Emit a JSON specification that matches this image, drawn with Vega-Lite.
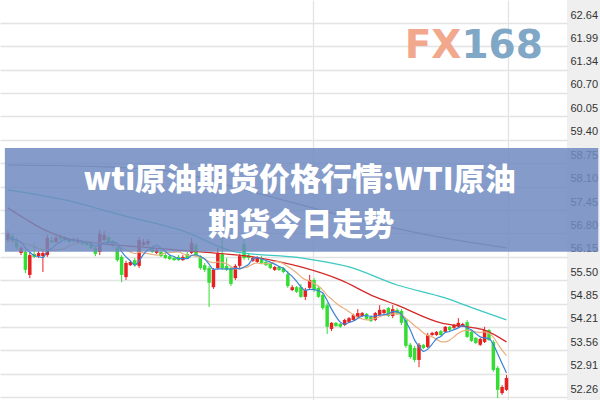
{
"$schema": "https://vega.github.io/schema/vega-lite/v6.json",
"width": 567, "height": 400,
"autosize": {"type": "none"},
"padding": {"left": 0, "top": 0, "right": 33, "bottom": 0},
"background": "#efefef",
"config": {"view": {"stroke": null, "fill": "#ffffff"}, "axis": {"gridColor": "#e3e3e3", "gridWidth": 1.3}},
"datasets": {
"candles": [
{"i":0,"o":56.62,"c":56.79,"h":56.87,"l":56.56,"m5":56.68,"m10":56.62},
{"i":1,"o":56.73,"c":56.59,"h":56.79,"l":56.54,"m5":56.65,"m10":56.59},
{"i":2,"o":56.62,"c":56.42,"h":56.68,"l":56.34,"m5":56.62,"m10":56.56},
{"i":3,"o":56.26,"c":56.40,"h":56.45,"l":56.20,"m5":56.56,"m10":56.54},
{"i":4,"o":56.29,"c":55.79,"h":56.34,"l":55.70,"m5":56.40,"m10":56.51},
{"i":5,"o":55.65,"c":56.20,"h":56.29,"l":55.56,"m5":56.28,"m10":56.48},
{"i":6,"o":56.23,"c":56.15,"h":56.54,"l":56.12,"m5":56.19,"m10":56.42},
{"i":7,"o":56.17,"c":56.26,"h":56.31,"l":56.12,"m5":56.16,"m10":56.39},
{"i":8,"o":56.17,"c":56.26,"h":56.34,"l":55.73,"m5":56.13,"m10":56.35},
{"i":9,"o":56.20,"c":56.68,"h":56.76,"l":56.15,"m5":56.31,"m10":56.35},
{"i":10,"o":56.62,"c":56.56,"h":56.70,"l":56.51,"m5":56.38,"m10":56.33},
{"i":11,"o":56.56,"c":56.68,"h":56.73,"l":56.54,"m5":56.49,"m10":56.34},
{"i":12,"o":56.70,"c":56.65,"h":56.76,"l":56.59,"m5":56.56,"m10":56.36},
{"i":13,"o":56.68,"c":56.62,"h":56.73,"l":56.56,"m5":56.64,"m10":56.38},
{"i":14,"o":56.62,"c":56.56,"h":56.68,"l":56.54,"m5":56.61,"m10":56.46},
{"i":15,"o":56.65,"c":56.59,"h":56.70,"l":56.54,"m5":56.62,"m10":56.50},
{"i":16,"o":56.54,"c":56.62,"h":56.68,"l":56.51,"m5":56.61,"m10":56.55},
{"i":17,"o":56.56,"c":56.51,"h":56.62,"l":56.48,"m5":56.58,"m10":56.57},
{"i":18,"o":56.54,"c":56.48,"h":56.59,"l":56.45,"m5":56.55,"m10":56.59},
{"i":19,"o":56.51,"c":56.40,"h":56.56,"l":56.37,"m5":56.52,"m10":56.57},
{"i":20,"o":56.40,"c":56.23,"h":56.42,"l":56.17,"m5":56.45,"m10":56.53},
{"i":21,"o":56.29,"c":56.79,"h":56.90,"l":56.20,"m5":56.48,"m10":56.54},
{"i":22,"o":56.62,"c":56.76,"h":56.87,"l":56.59,"m5":56.53,"m10":56.55},
{"i":23,"o":56.70,"c":56.56,"h":56.73,"l":56.54,"m5":56.55,"m10":56.55},
{"i":24,"o":56.59,"c":56.48,"h":56.62,"l":56.42,"m5":56.56,"m10":56.54},
{"i":25,"o":56.42,"c":56.06,"h":56.45,"l":56.01,"m5":56.53,"m10":56.49},
{"i":26,"o":56.15,"c":55.65,"h":56.20,"l":55.45,"m5":56.30,"m10":56.39},
{"i":27,"o":55.59,"c":55.98,"h":56.04,"l":55.51,"m5":56.15,"m10":56.34},
{"i":28,"o":55.92,"c":56.01,"h":56.06,"l":55.90,"m5":56.04,"m10":56.29},
{"i":29,"o":56.06,"c":55.92,"h":56.12,"l":55.87,"m5":55.92,"m10":56.24},
{"i":30,"o":55.90,"c":56.62,"h":56.70,"l":55.84,"m5":56.04,"m10":56.28},
{"i":31,"o":56.48,"c":56.56,"h":56.65,"l":56.45,"m5":56.22,"m10":56.26},
{"i":32,"o":56.51,"c":56.59,"h":56.65,"l":56.45,"m5":56.34,"m10":56.24},
{"i":33,"o":56.42,"c":56.29,"h":56.48,"l":56.26,"m5":56.40,"m10":56.22},
{"i":34,"o":56.26,"c":56.34,"h":56.40,"l":56.23,"m5":56.48,"m10":56.20},
{"i":35,"o":56.29,"c":56.17,"h":56.34,"l":56.15,"m5":56.39,"m10":56.21},
{"i":36,"o":56.20,"c":56.12,"h":56.26,"l":56.09,"m5":56.30,"m10":56.26},
{"i":37,"o":56.17,"c":56.09,"h":56.20,"l":56.06,"m5":56.20,"m10":56.27},
{"i":38,"o":56.12,"c":56.06,"h":56.17,"l":56.04,"m5":56.16,"m10":56.28},
{"i":39,"o":56.15,"c":56.06,"h":56.20,"l":56.04,"m5":56.10,"m10":56.29},
{"i":40,"o":56.06,"c":56.15,"h":56.20,"l":56.04,"m5":56.10,"m10":56.24},
{"i":41,"o":56.23,"c":56.12,"h":56.29,"l":56.09,"m5":56.10,"m10":56.20},
{"i":42,"o":56.26,"c":56.54,"h":56.68,"l":56.23,"m5":56.19,"m10":56.19},
{"i":43,"o":56.48,"c":56.17,"h":56.54,"l":56.15,"m5":56.21,"m10":56.18},
{"i":44,"o":56.17,"c":55.84,"h":56.20,"l":55.79,"m5":56.16,"m10":56.13},
{"i":45,"o":55.92,"c":55.79,"h":55.98,"l":55.73,"m5":56.09,"m10":56.09},
{"i":46,"o":55.84,"c":55.43,"h":55.90,"l":54.76,"m5":55.95,"m10":56.02},
{"i":47,"o":55.31,"c":55.79,"h":55.84,"l":55.26,"m5":55.80,"m10":55.99},
{"i":48,"o":55.84,"c":56.26,"h":56.40,"l":55.79,"m5":55.82,"m10":56.01},
{"i":49,"o":56.23,"c":55.84,"h":56.70,"l":55.79,"m5":55.82,"m10":55.99},
{"i":50,"o":55.90,"c":55.79,"h":56.12,"l":55.76,"m5":55.82,"m10":55.96},
{"i":51,"o":55.84,"c":55.40,"h":55.90,"l":55.34,"m5":55.81,"m10":55.88},
{"i":52,"o":55.56,"c":55.90,"h":55.95,"l":55.51,"m5":55.84,"m10":55.82},
{"i":53,"o":55.90,"c":56.17,"h":56.23,"l":55.84,"m5":55.82,"m10":55.82},
{"i":54,"o":56.51,"c":56.12,"h":56.68,"l":56.06,"m5":55.87,"m10":55.85},
{"i":55,"o":56.20,"c":56.12,"h":56.26,"l":56.06,"m5":55.94,"m10":55.88},
{"i":56,"o":56.04,"c":56.12,"h":56.17,"l":56.01,"m5":56.09,"m10":55.95},
{"i":57,"o":56.01,"c":56.12,"h":56.17,"l":55.98,"m5":56.13,"m10":55.98},
{"i":58,"o":56.12,"c":55.98,"h":56.17,"l":55.95,"m5":56.09,"m10":55.96},
{"i":59,"o":56.01,"c":55.92,"h":56.06,"l":55.90,"m5":56.05,"m10":55.96},
{"i":60,"o":55.98,"c":55.84,"h":56.01,"l":55.81,"m5":56.00,"m10":55.97},
{"i":61,"o":55.79,"c":55.87,"h":55.90,"l":55.76,"m5":55.95,"m10":56.02},
{"i":62,"o":55.87,"c":55.79,"h":55.90,"l":55.76,"m5":55.88,"m10":56.01},
{"i":63,"o":55.84,"c":55.73,"h":55.87,"l":55.70,"m5":55.83,"m10":55.96},
{"i":64,"o":55.67,"c":55.34,"h":55.76,"l":55.29,"m5":55.71,"m10":55.88},
{"i":65,"o":55.23,"c":55.31,"h":55.37,"l":55.20,"m5":55.61,"m10":55.80},
{"i":66,"o":55.31,"c":55.18,"h":55.34,"l":55.15,"m5":55.47,"m10":55.71},
{"i":67,"o":55.31,"c":55.04,"h":55.40,"l":55.01,"m5":55.32,"m10":55.60},
{"i":68,"o":55.04,"c":55.23,"h":55.29,"l":54.95,"m5":55.22,"m10":55.52},
{"i":69,"o":55.29,"c":55.51,"h":55.65,"l":55.26,"m5":55.25,"m10":55.48},
{"i":70,"o":55.51,"c":55.23,"h":55.56,"l":55.18,"m5":55.24,"m10":55.42},
{"i":71,"o":55.29,"c":55.04,"h":55.34,"l":55.01,"m5":55.21,"m10":55.34},
{"i":72,"o":55.09,"c":54.73,"h":55.15,"l":54.68,"m5":55.15,"m10":55.23},
{"i":73,"o":54.81,"c":54.21,"h":54.87,"l":54.01,"m5":54.94,"m10":55.08},
{"i":74,"o":54.15,"c":54.32,"h":54.34,"l":54.09,"m5":54.70,"m10":54.98},
{"i":75,"o":54.32,"c":54.23,"h":54.34,"l":54.21,"m5":54.50,"m10":54.87},
{"i":76,"o":54.29,"c":54.21,"h":54.32,"l":54.18,"m5":54.34,"m10":54.78},
{"i":77,"o":54.26,"c":54.40,"h":54.43,"l":54.23,"m5":54.28,"m10":54.71},
{"i":78,"o":54.34,"c":54.45,"h":54.48,"l":54.32,"m5":54.33,"m10":54.63},
{"i":79,"o":54.40,"c":54.54,"h":54.57,"l":54.37,"m5":54.37,"m10":54.54},
{"i":80,"o":54.48,"c":54.59,"h":54.70,"l":54.45,"m5":54.44,"m10":54.47},
{"i":81,"o":54.51,"c":54.59,"h":54.62,"l":54.48,"m5":54.51,"m10":54.43},
{"i":82,"o":54.57,"c":54.43,"h":54.59,"l":54.40,"m5":54.52,"m10":54.40},
{"i":83,"o":54.48,"c":54.37,"h":54.51,"l":54.34,"m5":54.50,"m10":54.41},
{"i":84,"o":54.40,"c":54.59,"h":54.62,"l":54.37,"m5":54.51,"m10":54.44},
{"i":85,"o":54.54,"c":54.68,"h":54.81,"l":54.51,"m5":54.53,"m10":54.49},
{"i":86,"o":54.59,"c":54.68,"h":54.70,"l":54.57,"m5":54.55,"m10":54.53},
{"i":87,"o":54.73,"c":54.51,"h":54.76,"l":54.48,"m5":54.57,"m10":54.54},
{"i":88,"o":54.51,"c":54.70,"h":54.81,"l":54.45,"m5":54.63,"m10":54.57},
{"i":89,"o":54.68,"c":54.57,"h":54.73,"l":54.54,"m5":54.63,"m10":54.57},
{"i":90,"o":54.65,"c":54.32,"h":54.70,"l":54.26,"m5":54.55,"m10":54.54},
{"i":91,"o":54.40,"c":53.68,"h":54.45,"l":53.62,"m5":54.35,"m10":54.45},
{"i":92,"o":53.71,"c":53.37,"h":53.76,"l":53.32,"m5":54.13,"m10":54.35},
{"i":93,"o":53.62,"c":53.29,"h":53.68,"l":53.23,"m5":53.84,"m10":54.24},
{"i":94,"o":53.29,"c":53.71,"h":53.76,"l":53.09,"m5":53.67,"m10":54.15},
{"i":95,"o":53.71,"c":53.62,"h":53.73,"l":53.59,"m5":53.53,"m10":54.04},
{"i":96,"o":53.65,"c":53.98,"h":54.04,"l":53.62,"m5":53.59,"m10":53.97},
{"i":97,"o":53.98,"c":54.04,"h":54.07,"l":53.96,"m5":53.73,"m10":53.93},
{"i":98,"o":53.98,"c":54.07,"h":54.09,"l":53.96,"m5":53.88,"m10":53.86},
{"i":99,"o":54.09,"c":53.98,"h":54.12,"l":53.96,"m5":53.94,"m10":53.80},
{"i":100,"o":54.07,"c":54.21,"h":54.23,"l":54.04,"m5":54.05,"m10":53.79},
{"i":101,"o":54.21,"c":54.12,"h":54.23,"l":54.09,"m5":54.08,"m10":53.84},
{"i":102,"o":54.18,"c":54.26,"h":54.29,"l":54.15,"m5":54.13,"m10":53.93},
{"i":103,"o":54.21,"c":54.32,"h":54.45,"l":54.18,"m5":54.18,"m10":54.03},
{"i":104,"o":54.23,"c":54.29,"h":54.32,"l":54.21,"m5":54.24,"m10":54.09},
{"i":105,"o":54.34,"c":53.93,"h":54.40,"l":53.90,"m5":54.18,"m10":54.12},
{"i":106,"o":54.07,"c":53.82,"h":54.12,"l":53.79,"m5":54.12,"m10":54.10},
{"i":107,"o":53.90,"c":53.76,"h":53.93,"l":53.73,"m5":54.02,"m10":54.07},
{"i":108,"o":53.71,"c":53.87,"h":53.90,"l":53.68,"m5":53.93,"m10":54.05},
{"i":109,"o":53.79,"c":54.12,"h":54.21,"l":53.76,"m5":53.90,"m10":54.07},
{"i":110,"o":54.12,"c":53.84,"h":54.15,"l":53.82,"m5":53.88,"m10":54.03},
{"i":111,"o":53.79,"c":53.01,"h":53.84,"l":52.96,"m5":53.72,"m10":53.92},
{"i":112,"o":53.07,"c":52.46,"h":53.12,"l":52.23,"m5":53.46,"m10":53.74},
{"i":113,"o":52.37,"c":52.54,"h":52.59,"l":52.32,"m5":53.19,"m10":53.56},
{"i":114,"o":52.46,"c":52.79,"h":52.87,"l":52.43,"m5":52.93,"m10":53.41}
],
"ma30": [{"i":0,"v":57.51},{"i":4,"v":57.20},{"i":8,"v":56.92},{"i":13,"v":56.68},{"i":22,"v":56.51},{"i":33,"v":56.40},{"i":44,"v":56.29},{"i":56,"v":56.15},{"i":67,"v":55.87},{"i":76,"v":55.51},{"i":84,"v":55.04},{"i":89,"v":54.81},{"i":99,"v":54.32},{"i":105,"v":54.21},{"i":109,"v":54.12},{"i":114,"v":53.79}],
"ma60": [{"i":0,"v":58.01},{"i":13,"v":57.73},{"i":26,"v":57.31},{"i":40,"v":56.87},{"i":52,"v":56.29},{"i":67,"v":56.12},{"i":78,"v":55.87},{"i":89,"v":55.37},{"i":100,"v":55.01},{"i":107,"v":54.70},{"i":114,"v":54.40}],
"ma120": [{"i":0,"v":58.70},{"i":22,"v":58.65},{"i":38,"v":58.51},{"i":56,"v":57.95},{"i":85,"v":57.04},{"i":100,"v":56.67},{"i":114,"v":56.40}]
},
"layer": [
{"data": {"name": "candles"}, "mark": {"type": "rule", "strokeWidth": 1},
 "encoding": {
  "x": {"field": "i", "type": "quantitative", "title": null, "scale": {"domain": [-0.67, 126.7], "nice": false, "zero": false}, "axis": {"values": [69.7, 114.4], "grid": true, "labels": false, "ticks": false, "domain": false, "title": null}},
  "y": {"field": "l", "type": "quantitative", "title": null, "scale": {"domain": [52.178, 63.28], "nice": false, "zero": false}, "axis": {"orient": "right", "values": [62.64, 61.99, 61.34, 60.70, 60.05, 59.40, 58.75, 58.10, 57.45, 56.80, 56.15, 55.50, 54.85, 54.21, 53.56, 52.91, 52.26], "format": ".2f", "grid": true, "ticks": false, "domain": false, "title": null, "labelFont": "Liberation Sans", "labelFontSize": 11, "labelColor": "#333333", "labelPadding": 3, "labelOffset": -8, "labelBaseline": "middle", "labelAlign": "left", "labelOverlap": false, "labelBound": false, "labelFlush": false}},
  "y2": {"field": "h"},
  "color": {"condition": {"test": "datum.c >= datum.o", "value": "#e82020"}, "value": "#33dd33"}
 }},
{"data": {"name": "candles"}, "mark": {"type": "bar", "size": 3.5},
 "encoding": {
  "x": {"field": "i", "type": "quantitative", "title": null, "scale": {"domain": [-0.67, 126.7], "nice": false, "zero": false}, "axis": {"values": [69.7, 114.4], "grid": true, "labels": false, "ticks": false, "domain": false, "title": null}},
  "y": {"field": "o", "type": "quantitative", "title": null, "scale": {"domain": [52.178, 63.28], "nice": false, "zero": false}, "axis": {"orient": "right", "values": [62.64, 61.99, 61.34, 60.70, 60.05, 59.40, 58.75, 58.10, 57.45, 56.80, 56.15, 55.50, 54.85, 54.21, 53.56, 52.91, 52.26], "format": ".2f", "grid": true, "ticks": false, "domain": false, "title": null, "labelFont": "Liberation Sans", "labelFontSize": 11, "labelColor": "#333333", "labelPadding": 3, "labelOffset": -8, "labelBaseline": "middle", "labelAlign": "left", "labelOverlap": false, "labelBound": false, "labelFlush": false}},
  "y2": {"field": "c"},
  "color": {"condition": {"test": "datum.c >= datum.o", "value": "#e82020"}, "value": "#33dd33"}
 }},
{"data": {"name": "ma120"}, "mark": {"type": "line", "color": "#8a98a8", "strokeWidth": 1.2, "interpolate": "monotone"},
 "encoding": {
  "x": {"field": "i", "type": "quantitative", "title": null, "scale": {"domain": [-0.67, 126.7], "nice": false, "zero": false}, "axis": {"values": [69.7, 114.4], "grid": true, "labels": false, "ticks": false, "domain": false, "title": null}},
  "y": {"field": "v", "type": "quantitative", "title": null, "scale": {"domain": [52.178, 63.28], "nice": false, "zero": false}, "axis": {"orient": "right", "values": [62.64, 61.99, 61.34, 60.70, 60.05, 59.40, 58.75, 58.10, 57.45, 56.80, 56.15, 55.50, 54.85, 54.21, 53.56, 52.91, 52.26], "format": ".2f", "grid": true, "ticks": false, "domain": false, "title": null, "labelFont": "Liberation Sans", "labelFontSize": 11, "labelColor": "#333333", "labelPadding": 3, "labelOffset": -8, "labelBaseline": "middle", "labelAlign": "left", "labelOverlap": false, "labelBound": false, "labelFlush": false}}
 }},
{"data": {"name": "ma60"}, "mark": {"type": "line", "color": "#3ec8c2", "strokeWidth": 1.3, "interpolate": "monotone"},
 "encoding": {
  "x": {"field": "i", "type": "quantitative", "title": null, "scale": {"domain": [-0.67, 126.7], "nice": false, "zero": false}, "axis": {"values": [69.7, 114.4], "grid": true, "labels": false, "ticks": false, "domain": false, "title": null}},
  "y": {"field": "v", "type": "quantitative", "title": null, "scale": {"domain": [52.178, 63.28], "nice": false, "zero": false}, "axis": {"orient": "right", "values": [62.64, 61.99, 61.34, 60.70, 60.05, 59.40, 58.75, 58.10, 57.45, 56.80, 56.15, 55.50, 54.85, 54.21, 53.56, 52.91, 52.26], "format": ".2f", "grid": true, "ticks": false, "domain": false, "title": null, "labelFont": "Liberation Sans", "labelFontSize": 11, "labelColor": "#333333", "labelPadding": 3, "labelOffset": -8, "labelBaseline": "middle", "labelAlign": "left", "labelOverlap": false, "labelBound": false, "labelFlush": false}}
 }},
{"data": {"name": "ma30"}, "mark": {"type": "line", "color": "#d42a2a", "strokeWidth": 1.3, "interpolate": "monotone"},
 "encoding": {
  "x": {"field": "i", "type": "quantitative", "title": null, "scale": {"domain": [-0.67, 126.7], "nice": false, "zero": false}, "axis": {"values": [69.7, 114.4], "grid": true, "labels": false, "ticks": false, "domain": false, "title": null}},
  "y": {"field": "v", "type": "quantitative", "title": null, "scale": {"domain": [52.178, 63.28], "nice": false, "zero": false}, "axis": {"orient": "right", "values": [62.64, 61.99, 61.34, 60.70, 60.05, 59.40, 58.75, 58.10, 57.45, 56.80, 56.15, 55.50, 54.85, 54.21, 53.56, 52.91, 52.26], "format": ".2f", "grid": true, "ticks": false, "domain": false, "title": null, "labelFont": "Liberation Sans", "labelFontSize": 11, "labelColor": "#333333", "labelPadding": 3, "labelOffset": -8, "labelBaseline": "middle", "labelAlign": "left", "labelOverlap": false, "labelBound": false, "labelFlush": false}}
 }},
{"data": {"name": "candles"}, "mark": {"type": "line", "color": "#e8b080", "strokeWidth": 1.2, "interpolate": "monotone"},
 "encoding": {
  "x": {"field": "i", "type": "quantitative", "title": null, "scale": {"domain": [-0.67, 126.7], "nice": false, "zero": false}, "axis": {"values": [69.7, 114.4], "grid": true, "labels": false, "ticks": false, "domain": false, "title": null}},
  "y": {"field": "m10", "type": "quantitative", "title": null, "scale": {"domain": [52.178, 63.28], "nice": false, "zero": false}, "axis": {"orient": "right", "values": [62.64, 61.99, 61.34, 60.70, 60.05, 59.40, 58.75, 58.10, 57.45, 56.80, 56.15, 55.50, 54.85, 54.21, 53.56, 52.91, 52.26], "format": ".2f", "grid": true, "ticks": false, "domain": false, "title": null, "labelFont": "Liberation Sans", "labelFontSize": 11, "labelColor": "#333333", "labelPadding": 3, "labelOffset": -8, "labelBaseline": "middle", "labelAlign": "left", "labelOverlap": false, "labelBound": false, "labelFlush": false}}
 }},
{"data": {"name": "candles"}, "mark": {"type": "line", "color": "#3b82dc", "strokeWidth": 1.2, "interpolate": "monotone"},
 "encoding": {
  "x": {"field": "i", "type": "quantitative", "title": null, "scale": {"domain": [-0.67, 126.7], "nice": false, "zero": false}, "axis": {"values": [69.7, 114.4], "grid": true, "labels": false, "ticks": false, "domain": false, "title": null}},
  "y": {"field": "m5", "type": "quantitative", "title": null, "scale": {"domain": [52.178, 63.28], "nice": false, "zero": false}, "axis": {"orient": "right", "values": [62.64, 61.99, 61.34, 60.70, 60.05, 59.40, 58.75, 58.10, 57.45, 56.80, 56.15, 55.50, 54.85, 54.21, 53.56, 52.91, 52.26], "format": ".2f", "grid": true, "ticks": false, "domain": false, "title": null, "labelFont": "Liberation Sans", "labelFontSize": 11, "labelColor": "#333333", "labelPadding": 3, "labelOffset": -8, "labelBaseline": "middle", "labelAlign": "left", "labelOverlap": false, "labelBound": false, "labelFlush": false}}
 }},
{"data": {"values": [{"x1": -0.7, "x2": 135, "p1": 59.17, "p2": 56.29}]}, "mark": {"type": "rect", "fill": "#7089c0", "opacity": 0.85},
 "encoding": {
  "x": {"field": "x1", "type": "quantitative", "title": null, "scale": {"domain": [-0.67, 126.7], "nice": false, "zero": false}, "axis": {"values": [69.7, 114.4], "grid": true, "labels": false, "ticks": false, "domain": false, "title": null}},
  "x2": {"field": "x2"},
  "y": {"field": "p1", "type": "quantitative", "title": null, "scale": {"domain": [52.178, 63.28], "nice": false, "zero": false}, "axis": {"orient": "right", "values": [62.64, 61.99, 61.34, 60.70, 60.05, 59.40, 58.75, 58.10, 57.45, 56.80, 56.15, 55.50, 54.85, 54.21, 53.56, 52.91, 52.26], "format": ".2f", "grid": true, "ticks": false, "domain": false, "title": null, "labelFont": "Liberation Sans", "labelFontSize": 11, "labelColor": "#333333", "labelPadding": 3, "labelOffset": -8, "labelBaseline": "middle", "labelAlign": "left", "labelOverlap": false, "labelBound": false, "labelFlush": false}},
  "y2": {"field": "p2"}
 }},
{"data": {"values": [{"t": "wti原油期货价格行情:WTI原油", "i": 66.7, "p": 58.26}, {"t": "期货今日走势", "i": 67.1, "p": 57.01}]},
 "mark": {"type": "text", "font": "Noto Sans CJK SC", "fontSize": 31, "fontWeight": 900, "color": "#ffffff", "align": "center", "baseline": "middle"},
 "encoding": {
  "x": {"field": "i", "type": "quantitative", "title": null, "scale": {"domain": [-0.67, 126.7], "nice": false, "zero": false}, "axis": {"values": [69.7, 114.4], "grid": true, "labels": false, "ticks": false, "domain": false, "title": null}},
  "y": {"field": "p", "type": "quantitative", "title": null, "scale": {"domain": [52.178, 63.28], "nice": false, "zero": false}, "axis": {"orient": "right", "values": [62.64, 61.99, 61.34, 60.70, 60.05, 59.40, 58.75, 58.10, 57.45, 56.80, 56.15, 55.50, 54.85, 54.21, 53.56, 52.91, 52.26], "format": ".2f", "grid": true, "ticks": false, "domain": false, "title": null, "labelFont": "Liberation Sans", "labelFontSize": 11, "labelColor": "#333333", "labelPadding": 3, "labelOffset": -8, "labelBaseline": "middle", "labelAlign": "left", "labelOverlap": false, "labelBound": false, "labelFlush": false}},
  "text": {"field": "t"}
 }},
{"data": {"values": [{"t": "FX", "i": 103.7, "p": 61.66}]},
 "mark": {"type": "text", "font": "DejaVu Sans", "fontSize": 39, "fontWeight": "bold", "color": "#f2a88c", "align": "right", "baseline": "alphabetic"},
 "encoding": {
  "x": {"field": "i", "type": "quantitative", "title": null, "scale": {"domain": [-0.67, 126.7], "nice": false, "zero": false}, "axis": {"values": [69.7, 114.4], "grid": true, "labels": false, "ticks": false, "domain": false, "title": null}},
  "y": {"field": "p", "type": "quantitative", "title": null, "scale": {"domain": [52.178, 63.28], "nice": false, "zero": false}, "axis": {"orient": "right", "values": [62.64, 61.99, 61.34, 60.70, 60.05, 59.40, 58.75, 58.10, 57.45, 56.80, 56.15, 55.50, 54.85, 54.21, 53.56, 52.91, 52.26], "format": ".2f", "grid": true, "ticks": false, "domain": false, "title": null, "labelFont": "Liberation Sans", "labelFontSize": 11, "labelColor": "#333333", "labelPadding": 3, "labelOffset": -8, "labelBaseline": "middle", "labelAlign": "left", "labelOverlap": false, "labelBound": false, "labelFlush": false}},
  "text": {"field": "t"}
 }},
{"data": {"values": [{"t": "168", "i": 103.7, "p": 61.66}]},
 "mark": {"type": "text", "font": "DejaVu Sans", "fontSize": 39, "fontWeight": "bold", "color": "#80a8c6", "align": "left", "baseline": "alphabetic"},
 "encoding": {
  "x": {"field": "i", "type": "quantitative", "title": null, "scale": {"domain": [-0.67, 126.7], "nice": false, "zero": false}, "axis": {"values": [69.7, 114.4], "grid": true, "labels": false, "ticks": false, "domain": false, "title": null}},
  "y": {"field": "p", "type": "quantitative", "title": null, "scale": {"domain": [52.178, 63.28], "nice": false, "zero": false}, "axis": {"orient": "right", "values": [62.64, 61.99, 61.34, 60.70, 60.05, 59.40, 58.75, 58.10, 57.45, 56.80, 56.15, 55.50, 54.85, 54.21, 53.56, 52.91, 52.26], "format": ".2f", "grid": true, "ticks": false, "domain": false, "title": null, "labelFont": "Liberation Sans", "labelFontSize": 11, "labelColor": "#333333", "labelPadding": 3, "labelOffset": -8, "labelBaseline": "middle", "labelAlign": "left", "labelOverlap": false, "labelBound": false, "labelFlush": false}},
  "text": {"field": "t"}
 }}
]
}
